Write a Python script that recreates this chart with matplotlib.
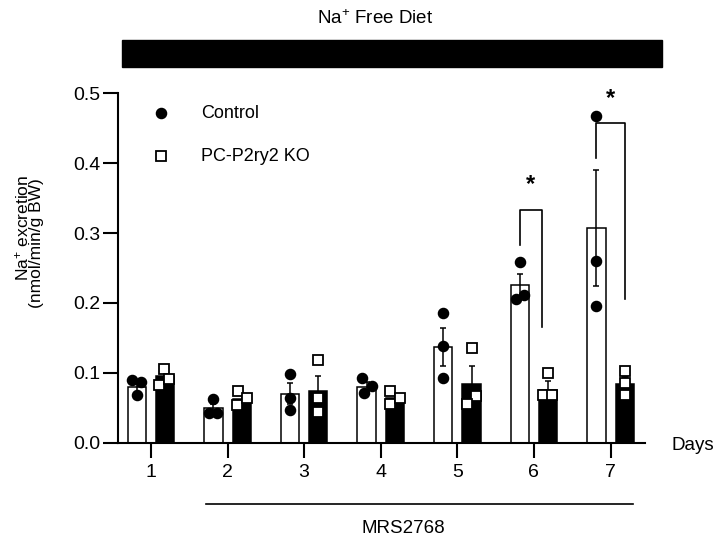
import numpy as np
import matplotlib
matplotlib.use('Agg')
import matplotlib.pyplot as plt
from matplotlib.patches import Rectangle

plt.rcParams['font.family'] = ['Liberation Sans', 'DejaVu Sans']
plt.rcParams['mathtext.fontset'] = 'custom'
plt.rcParams['mathtext.rm'] = 'Liberation Sans'
plt.rcParams['mathtext.it'] = 'Liberation Sans:italic'

# data
days = [1, 2, 3, 4, 5, 6, 7]
ctrl_mean = [0.080, 0.049, 0.070, 0.080, 0.137, 0.225, 0.307]
ctrl_sem = [0.007, 0.006, 0.015, 0.007, 0.027, 0.017, 0.083]
ko_mean = [0.095, 0.063, 0.074, 0.064, 0.084, 0.076, 0.084]
ko_sem = [0.007, 0.006, 0.022, 0.006, 0.026, 0.013, 0.010]

ctrl_pts = [[0.090, 0.087, 0.068], [0.062, 0.043, 0.043], [0.098, 0.064, 0.047],
            [0.093, 0.081, 0.071], [0.186, 0.139, 0.092], [0.259, 0.205, 0.211],
            [0.467, 0.260, 0.196]]
ko_pts = [[0.106, 0.083, 0.091], [0.074, 0.054, 0.064], [0.118, 0.064, 0.044],
          [0.074, 0.055, 0.064], [0.135, 0.067, 0.055], [0.100, 0.068, 0.068],
          [0.103, 0.085, 0.068]]

# significance brackets (day, top, left end, right end)
sig_days = [6, 7]
sig_top = [0.333, 0.457]
sig_left_low = [0.283, 0.407]
sig_right_low = [0.165, 0.205]

# horizontal scatter of the dots (pixels)
ctrl_jit = [[-4.5, 4, 0], [0, -4.5, 3.5], [0, 0, 0], [-4.3, 5.7, -2.7],
            [0, 0, 0], [0, -3.8, 4.5], [0, 0, 0]]
ko_jit = [[-0.7, -6, 4], [-4, -5, 5], [0, 0, 0], [-4.5, -4.5, 4.8],
          [0, 4.2, -4.8], [0, -4.8, 4.2], [0, 0, 0]]

W, H = 715, 539
fig = plt.figure(figsize=(W / 100, H / 100), dpi=100)
ax = fig.add_axes([118 / W, 1 - 442.7 / H, 527 / W, 349.4 / H])

x = np.array(days, dtype=float)
off = 0.185
bw = 0.24
px = 1 / 76.6  # data units per pixel along x

ax.bar(x - off, ctrl_mean, bw, color='white', edgecolor='black', linewidth=1.1, zorder=2)
ax.bar(x + off, ko_mean, bw, color='black', edgecolor='black', linewidth=1.1, zorder=2)
ax.errorbar(x - off, ctrl_mean, yerr=ctrl_sem, fmt='none', ecolor='black',
            elinewidth=1.1, capsize=2, capthick=1.1, zorder=3)
ax.errorbar(x + off, ko_mean, yerr=ko_sem, fmt='none', ecolor='black',
            elinewidth=1.1, capsize=2, capthick=1.1, zorder=3)

for i in range(len(days)):
    xc = x[i] - off + np.array(ctrl_jit[i]) * px
    ax.plot(xc, ctrl_pts[i], 'o', color='black', ms=7.3, zorder=4, clip_on=False)
    xk = x[i] + off + np.array(ko_jit[i]) * px
    ax.plot(xk, ko_pts[i], 's', mfc='white', mec='black', ms=7, mew=1.3,
            zorder=4, clip_on=False)

right_off = [0.10, 0.19]
for k, d in enumerate(sig_days):
    xl = d - off
    xr = d + right_off[k]
    ax.plot([xl, xl, xr, xr], [sig_left_low[k], sig_top[k], sig_top[k], sig_right_low[k]],
            color='black', lw=1.2, zorder=5, clip_on=False)
    ax.text((xl + xr) / 2, sig_top[k] + 0.036, '*', ha='center', va='center',
            fontsize=17, fontweight='bold')

ax.set_xlim(0.57, 7.45)
ax.set_ylim(0, 0.5)
ax.set_xticks(days)
ax.set_xticklabels([str(d) for d in days])
ax.set_yticks(np.arange(0, 0.51, 0.1))
ax.set_yticklabels(['%.1f' % v for v in np.arange(0, 0.51, 0.1)])
for s in ['top', 'right']:
    ax.spines[s].set_visible(False)
for s in ['left', 'bottom']:
    ax.spines[s].set_linewidth(1.5)
ax.tick_params(axis='both', length=10.5, width=1.5, labelsize=14)
ax.tick_params(axis='y', pad=2)
ax.tick_params(axis='x', pad=5)

# legend
ax.plot([0.0816], [0.943], 'o', color='black', ms=7.3, transform=ax.transAxes, clip_on=False)
ax.plot([0.0816], [0.8205], 's', mfc='white', mec='black', ms=7, mew=1.3,
        transform=ax.transAxes, clip_on=False)
ax.text(0.1575, 0.943, 'Control', transform=ax.transAxes, va='center', ha='left', fontsize=13)
ax.text(0.1575, 0.8205, 'PC-P2ry2 KO', transform=ax.transAxes, va='center', ha='left', fontsize=13)

# axis label
fig.text(22 / W, 1 - 228 / H, 'Na$^{+}$ excretion', rotation=90, ha='center', va='center', fontsize=12.5)
fig.text(37 / W, 1 - 243 / H, '(nmol/min/g BW)', rotation=90, ha='center', va='center', fontsize=12.5)

ax.text(1.0495, -0.009, 'Days', transform=ax.transAxes, ha='left', va='center', fontsize=13.5)

# treatment line
tr = ax.get_xaxis_transform()
ax.plot([1.72, 7.29], [-0.175, -0.175], transform=tr, color='black', lw=1.2, clip_on=False)
ax.text(4.30, -0.246, 'MRS2768', transform=tr, ha='center', va='center', fontsize=13.5)

# diet bar at top
fig.add_artist(Rectangle((122 / W, 1 - 67 / H), 540 / W, 27 / H,
                         transform=fig.transFigure, color='black'))
fig.text(375 / W, 1 - 19 / H, 'Na$^{+}$ Free Diet', ha='center', va='center', fontsize=13.5)

fig.savefig('out.png', dpi=100)
